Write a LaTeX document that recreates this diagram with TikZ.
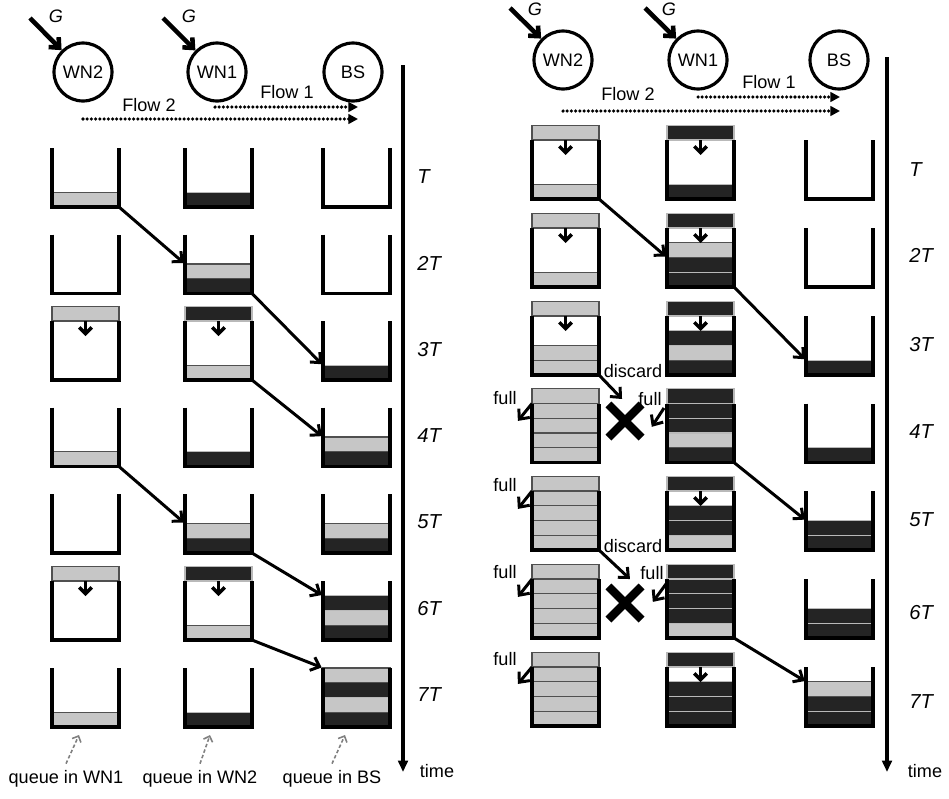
\documentclass[tikz,border=0pt]{standalone}
\usepackage{fontspec}
\setmainfont{Liberation Sans}
\usetikzlibrary{arrows.meta, shapes.misc, positioning}

\definecolor{pkL}{RGB}{198,198,198}
\definecolor{pkD}{RGB}{36,36,36}
\definecolor{lnL}{RGB}{80,80,80}
\definecolor{lnD}{RGB}{185,185,185}

\newcommand{\qw}{67}
\newcommand{\pkh}{14.75}

% queue: name, x left, y bottom, packets (bottom to top), incoming packet
\newcommand{\qbox}[5]{%
  \foreach \k in {0,...,4} {\coordinate (#1-\k) at (#2,#3-\k*\pkh);}
  \coordinate (#1-br) at (#2+\qw,#3);
  \if\relax\detokenize{#4}\relax\else
    \foreach \pc [count=\i from 0] in {#4}
      {\filldraw[packet, fill=pk\pc, draw=ln\pc] (#2,#3-\i*\pkh) rectangle (#2+\qw,#3-\i*\pkh-\pkh);}
  \fi
  \if\relax\detokenize{#5}\relax\else
    \filldraw[packet, fill=pk#5, draw=ln#5] (#1-4) rectangle (#2+\qw,#3-5*\pkh);
    \draw[drop] (#2+\qw/2,#3-4*\pkh) -- ++(0,15);
  \fi
  \draw[wall] (#1-4) -- (#1-0) -- (#1-br) -- (#2+\qw,#3-4*\pkh);
}

\begin{document}
\begin{tikzpicture}[x=0.02cm, y=-0.02cm, font=\fontsize{10.3}{12}\selectfont,
  station/.style={circle, draw, line width=1.8pt, minimum size=33pt, inner sep=0pt},
  packet/.style={line width=0.6pt},
  wall/.style={line width=2.2pt, line join=miter},
  drop/.style={line width=2pt, -{Straight Barb[length=3.5pt,width=7pt]}},
  move/.style={line width=1.7pt, shorten >=0.8pt, -{Straight Barb[length=4.5pt,width=8pt]}},
  gen/.style={line width=2.6pt, -{Straight Barb[length=4.5pt,width=8pt]}},
  flow/.style={line width=2pt, line cap=round, dash pattern=on 0pt off 2.4pt, -{Triangle[length=5.5pt,width=5.5pt]}},
  axis/.style={line width=2pt, -{Triangle[length=6.5pt,width=5.5pt]}},
  pointer/.style={gray, line width=0.9pt, dash pattern=on 2pt off 1.3pt, -{Straight Barb[length=2.8pt,width=5.5pt]}},
  xmark/.style={cross out, draw, line width=4.8pt, minimum size=14pt, inner sep=0pt},
  slot/.style={anchor=west, inner sep=0pt, font=\fontsize{11.5}{13}\selectfont\itshape}]
  \useasboundingbox (0,0) rectangle (949,798);

  % ---------- left panel ----------
  \node[station] (WN2L) at (83,72) {WN2};
  \node[station] (WN1L) at (217,72) {WN1};
  \node[station] (BSL) at (353,72) {BS};

  \coordinate (g2L) at (30,18);
  \coordinate (g1L) at (163,18);
  \draw[gen] (g2L) -- (WN2L);
  \draw[gen] (g1L) -- (WN1L);
  \node (G2L) at (56,16) {\itshape G};
  \node (G1L) at (189,16) {\itshape G};

  \node (flow1L) at (287,92) {Flow 1};
  \node (flow2L) at (149,105) {Flow 2};
  \coordinate (f1L0) at (215,107);
  \coordinate (f1L1) at (358,107);
  \coordinate (f2L0) at (83,119);
  \coordinate (f2L1) at (358,119);
  \draw[flow] (f1L0) -- (f1L1);
  \draw[flow] (f2L0) -- (f2L1);

  % queues, rows T ... 7T
  \qbox{L1a}{52}{207}{L}{}
  \qbox{L1b}{185}{207}{D}{}
  \qbox{L1c}{323}{207}{}{}
  \qbox{L2a}{52}{293.5}{}{}
  \qbox{L2b}{185}{293.5}{D,L}{}
  \qbox{L2c}{323}{293.5}{}{}
  \qbox{L3a}{52}{380}{}{L}
  \qbox{L3b}{185}{380}{L}{D}
  \qbox{L3c}{323}{380}{D}{}
  \qbox{L4a}{52}{466.5}{L}{}
  \qbox{L4b}{185}{466.5}{D}{}
  \qbox{L4c}{323}{466.5}{D,L}{}
  \qbox{L5a}{52}{553}{}{}
  \qbox{L5b}{185}{553}{D,L}{}
  \qbox{L5c}{323}{553}{D,L}{}
  \qbox{L6a}{52}{640}{}{L}
  \qbox{L6b}{185}{640}{L}{D}
  \qbox{L6c}{323}{640}{D,L,D}{}
  \qbox{L7a}{52}{727}{L}{}
  \qbox{L7b}{185}{727}{D}{}
  \qbox{L7c}{323}{727}{D,L,D,L}{}

  \draw[move] (L1a-br) -- (L2b-2);
  \draw[move] (L2b-br) -- (L3c-1);
  \draw[move] (L3b-br) -- (L4c-2);
  \draw[move] (L4a-br) -- (L5b-2);
  \draw[move] (L5b-br) -- (L6c-3);
  \draw[move] (L6b-br) -- (L7c-4);

  % time axis
  \coordinate (axL0) at (403,65);
  \coordinate (axL1) at (403,772);
  \draw[axis] (axL0) -- (axL1);
  \node (timeL) at (437,771) {time};
  \node[slot] (sL1) at (417,177) {T};
  \node[slot] (sL2) at (417,263) {2T};
  \node[slot] (sL3) at (417,350) {3T};
  \node[slot] (sL4) at (417,436) {4T};
  \node[slot] (sL5) at (417,522) {5T};
  \node[slot] (sL6) at (417,609) {6T};
  \node[slot] (sL7) at (417,695) {7T};

  % queue names
  \node[anchor=base] (qn1) at (66,783) {queue in WN1};
  \node[anchor=base] (qn2) at (200,783) {queue in WN2};
  \node[anchor=base] (qn3) at (332,783) {queue in BS};
  \coordinate (qp1) at (79,735);
  \coordinate (qp2) at (210,735);
  \coordinate (qp3) at (345,735);
  \draw[pointer] (qn1.north) -- (qp1);
  \draw[pointer] (qn2.north) -- (qp2);
  \draw[pointer] (qn3.north) -- (qp3);

  % ---------- right panel ----------
  \node[station] (WN2R) at (563,60) {WN2};
  \node[station] (WN1R) at (698,60) {WN1};
  \node[station] (BSR) at (839,60) {BS};

  \coordinate (g2R) at (510,8);
  \coordinate (g1R) at (645,8);
  \draw[gen] (g2R) -- (WN2R);
  \draw[gen] (g1R) -- (WN1R);
  \node (G2R) at (535,9) {\itshape G};
  \node (G1R) at (669,9) {\itshape G};

  \node (flow1R) at (769,82) {Flow 1};
  \node (flow2R) at (628,94) {Flow 2};
  \coordinate (f1R0) at (698,97);
  \coordinate (f1R1) at (840,97);
  \coordinate (f2R0) at (563,111);
  \coordinate (f2R1) at (840,111);
  \draw[flow] (f1R0) -- (f1R1);
  \draw[flow] (f2R0) -- (f2R1);

  \qbox{R1a}{532}{199}{L}{L}
  \qbox{R1b}{667}{199}{D}{D}
  \qbox{R1c}{806}{199}{}{}
  \qbox{R2a}{532}{287}{L}{L}
  \qbox{R2b}{667}{287}{D,D,L}{D}
  \qbox{R2c}{806}{287}{}{}
  \qbox{R3a}{532}{375}{L,L}{L}
  \qbox{R3b}{667}{375}{D,L,D}{D}
  \qbox{R3c}{806}{375}{D}{}
  \qbox{R4a}{532}{462.5}{L,L,L,L,L}{}
  \qbox{R4b}{667}{462.5}{D,L,D,D,D}{}
  \qbox{R4c}{806}{462.5}{D}{}
  \qbox{R5a}{532}{550}{L,L,L,L,L}{}
  \qbox{R5b}{667}{550}{L,D,D}{D}
  \qbox{R5c}{806}{550}{D,D}{}
  \qbox{R6a}{532}{638}{L,L,L,L,L}{}
  \qbox{R6b}{667}{638}{L,D,D,D,D}{}
  \qbox{R6c}{806}{638}{D,D}{}
  \qbox{R7a}{532}{726}{L,L,L,L,L}{}
  \qbox{R7b}{667}{726}{D,D,D}{D}
  \qbox{R7c}{806}{726}{D,D,L}{}

  \draw[move] (R1a-br) -- (R2b-2);
  \draw[move] (R2b-br) -- (R3c-1);
  \draw[move] (R4b-br) -- (R5c-2);
  \draw[move] (R6b-br) -- (R7c-3);

  % discarded packets
  \node (dis1) at (633,371) {discard};
  \node (dis2) at (633,546) {discard};
  \node[xmark] (x1) at (625,421) {};
  \node[xmark] (x2) at (625,603) {};
  \coordinate (d1) at (623,400);
  \coordinate (d2) at (631,580);
  \draw[move] (R3a-br) -- (d1);
  \draw[move] (R5a-br) -- (d2);

  % full queues
  \node (fullM1) at (650,399) {full};
  \node (fullM2) at (652,573) {full};
  \coordinate (fm1a) at (664,408);
  \coordinate (fm1b) at (651,428);
  \coordinate (fm2a) at (666,584);
  \coordinate (fm2b) at (652,603);
  \draw[move] (fm1a) -- (fm1b);
  \draw[move] (fm2a) -- (fm2b);
  \node (full4) at (505,398) {full};
  \node (full5) at (505,485) {full};
  \node (full6) at (505,572) {full};
  \node (full7) at (505,659) {full};
  \coordinate (fa4) at (517,422);
  \coordinate (fa5) at (517,510);
  \coordinate (fa6) at (517,598);
  \coordinate (fa7) at (517,685);
  \draw[move] (R4a-4) -- (fa4);
  \draw[move] (R5a-4) -- (fa5);
  \draw[move] (R6a-4) -- (fa6);
  \draw[move] (R7a-4) -- (fa7);

  % time axis
  \coordinate (axR0) at (887,57);
  \coordinate (axR1) at (887,772);
  \draw[axis] (axR0) -- (axR1);
  \node (timeR) at (925,771) {time};
  \node[slot] (sR1) at (909,170) {T};
  \node[slot] (sR2) at (909,255) {2T};
  \node[slot] (sR3) at (909,345) {3T};
  \node[slot] (sR4) at (909,432) {4T};
  \node[slot] (sR5) at (909,520) {5T};
  \node[slot] (sR6) at (909,613) {6T};
  \node[slot] (sR7) at (909,702) {7T};
\end{tikzpicture}
\end{document}
